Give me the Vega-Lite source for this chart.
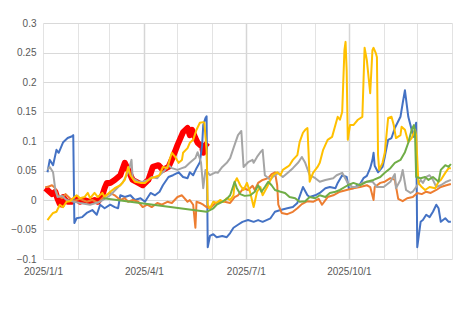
{
"$schema":"https://vega.github.io/schema/vega-lite/v6.json",
"width":409,"height":236,
"autosize":{"type":"none"},
"padding":{"left":43,"top":23,"right":12,"bottom":51},
"background":"white",
"config":{"view":{"stroke":null},"axis":{"labelFont":"Liberation Sans","labelFontSize":10,"labelColor":"#595959","domain":false,"ticks":false,"title":null}},
"data":{"values":[
{"s":"red","d":"2025/1/3","v":0.020},{"s":"red","d":"2025/1/5","v":0.017},{"s":"red","d":"2025/1/9","v":0.010},{"s":"red","d":"2025/1/12","v":0.014},{"s":"red","d":"2025/1/14","v":0.002},{"s":"red","d":"2025/1/16","v":-0.007},{"s":"red","d":"2025/1/18","v":-0.008},{"s":"red","d":"2025/1/19","v":0.005},{"s":"red","d":"2025/1/21","v":0.000},{"s":"red","d":"2025/1/23","v":-0.003},{"s":"red","d":"2025/1/27","v":-0.003},{"s":"red","d":"2025/1/31","v":0.003},{"s":"red","d":"2025/2/3","v":-0.003},{"s":"red","d":"2025/2/7","v":0.000},{"s":"red","d":"2025/2/12","v":-0.003},{"s":"red","d":"2025/2/16","v":0.000},{"s":"red","d":"2025/2/19","v":-0.003},{"s":"red","d":"2025/2/23","v":0.008},{"s":"red","d":"2025/2/25","v":0.020},{"s":"red","d":"2025/2/27","v":0.029},{"s":"red","d":"2025/3/2","v":0.029},{"s":"red","d":"2025/3/6","v":0.034},{"s":"red","d":"2025/3/11","v":0.042},{"s":"red","d":"2025/3/15","v":0.063},{"s":"red","d":"2025/3/18","v":0.051},{"s":"red","d":"2025/3/22","v":0.034},{"s":"red","d":"2025/3/27","v":0.029},{"s":"red","d":"2025/3/31","v":0.025},{"s":"red","d":"2025/4/5","v":0.034},{"s":"red","d":"2025/4/9","v":0.056},{"s":"red","d":"2025/4/14","v":0.059},{"s":"red","d":"2025/4/18","v":0.051},{"s":"red","d":"2025/4/23","v":0.056},{"s":"red","d":"2025/4/27","v":0.073},{"s":"red","d":"2025/5/1","v":0.093},{"s":"red","d":"2025/5/3","v":0.102},{"s":"red","d":"2025/5/6","v":0.115},{"s":"red","d":"2025/5/10","v":0.122},{"s":"red","d":"2025/5/12","v":0.110},{"s":"red","d":"2025/5/14","v":0.119},{"s":"red","d":"2025/5/17","v":0.105},{"s":"red","d":"2025/5/19","v":0.097},{"s":"red","d":"2025/5/23","v":0.090},{"s":"red","d":"2025/5/24","v":0.080},{"s":"red","d":"2025/5/26","v":0.093},{"s":"red","d":"2025/5/28","v":0.097},

{"s":"blue","d":"2025/1/5","v":0.047},{"s":"blue","d":"2025/1/7","v":0.068},{"s":"blue","d":"2025/1/10","v":0.059},{"s":"blue","d":"2025/1/13","v":0.085},{"s":"blue","d":"2025/1/15","v":0.080},{"s":"blue","d":"2025/1/19","v":0.098},{"s":"blue","d":"2025/1/23","v":0.105},{"s":"blue","d":"2025/1/27","v":0.108},{"s":"blue","d":"2025/1/28","v":0.110},{"s":"blue","d":"2025/1/29","v":-0.039},{"s":"blue","d":"2025/1/31","v":-0.031},{"s":"blue","d":"2025/2/5","v":-0.029},{"s":"blue","d":"2025/2/9","v":-0.022},{"s":"blue","d":"2025/2/14","v":-0.017},{"s":"blue","d":"2025/2/18","v":-0.025},{"s":"blue","d":"2025/2/21","v":-0.008},{"s":"blue","d":"2025/2/25","v":-0.014},{"s":"blue","d":"2025/3/2","v":-0.008},{"s":"blue","d":"2025/3/6","v":-0.012},{"s":"blue","d":"2025/3/9","v":-0.014},{"s":"blue","d":"2025/3/11","v":0.008},{"s":"blue","d":"2025/3/15","v":0.005},{"s":"blue","d":"2025/3/20","v":0.008},{"s":"blue","d":"2025/3/24","v":0.000},{"s":"blue","d":"2025/3/29","v":0.003},{"s":"blue","d":"2025/4/2","v":-0.003},{"s":"blue","d":"2025/4/7","v":0.012},{"s":"blue","d":"2025/4/11","v":0.008},{"s":"blue","d":"2025/4/15","v":0.014},{"s":"blue","d":"2025/4/18","v":0.025},{"s":"blue","d":"2025/4/23","v":0.039},{"s":"blue","d":"2025/4/27","v":0.042},{"s":"blue","d":"2025/5/2","v":0.047},{"s":"blue","d":"2025/5/6","v":0.039},{"s":"blue","d":"2025/5/10","v":0.037},{"s":"blue","d":"2025/5/12","v":0.047},{"s":"blue","d":"2025/5/15","v":0.042},{"s":"blue","d":"2025/5/18","v":0.054},{"s":"blue","d":"2025/5/21","v":0.064},{"s":"blue","d":"2025/5/23","v":0.093},{"s":"blue","d":"2025/5/24","v":0.127},{"s":"blue","d":"2025/5/26","v":0.139},{"s":"blue","d":"2025/5/27","v":0.142},{"s":"blue","d":"2025/5/28","v":-0.080},{"s":"blue","d":"2025/5/30","v":-0.061},{"s":"blue","d":"2025/6/2","v":-0.058},{"s":"blue","d":"2025/6/5","v":-0.063},{"s":"blue","d":"2025/6/10","v":-0.061},{"s":"blue","d":"2025/6/14","v":-0.063},{"s":"blue","d":"2025/6/17","v":-0.056},{"s":"blue","d":"2025/6/20","v":-0.047},{"s":"blue","d":"2025/6/24","v":-0.042},{"s":"blue","d":"2025/6/28","v":-0.037},{"s":"blue","d":"2025/7/3","v":-0.034},{"s":"blue","d":"2025/7/8","v":-0.037},{"s":"blue","d":"2025/7/12","v":-0.034},{"s":"blue","d":"2025/7/16","v":-0.037},{"s":"blue","d":"2025/7/23","v":-0.031},{"s":"blue","d":"2025/7/27","v":-0.020},{"s":"blue","d":"2025/8/1","v":-0.017},{"s":"blue","d":"2025/8/7","v":-0.014},{"s":"blue","d":"2025/8/12","v":-0.012},{"s":"blue","d":"2025/8/16","v":-0.005},{"s":"blue","d":"2025/8/21","v":0.022},{"s":"blue","d":"2025/8/25","v":0.008},{"s":"blue","d":"2025/8/27","v":0.005},{"s":"blue","d":"2025/9/1","v":0.008},{"s":"blue","d":"2025/9/5","v":0.012},{"s":"blue","d":"2025/9/10","v":0.020},{"s":"blue","d":"2025/9/14","v":0.022},{"s":"blue","d":"2025/9/19","v":0.020},{"s":"blue","d":"2025/9/21","v":0.029},{"s":"blue","d":"2025/9/25","v":0.042},{"s":"blue","d":"2025/9/29","v":0.039},{"s":"blue","d":"2025/10/1","v":0.019},{"s":"blue","d":"2025/10/5","v":0.020},{"s":"blue","d":"2025/10/11","v":0.027},{"s":"blue","d":"2025/10/14","v":0.037},{"s":"blue","d":"2025/10/17","v":0.041},{"s":"blue","d":"2025/10/20","v":0.054},{"s":"blue","d":"2025/10/22","v":0.068},{"s":"blue","d":"2025/10/23","v":0.080},{"s":"blue","d":"2025/10/24","v":0.058},{"s":"blue","d":"2025/10/27","v":0.047},{"s":"blue","d":"2025/10/31","v":0.056},{"s":"blue","d":"2025/11/2","v":0.073},{"s":"blue","d":"2025/11/5","v":0.102},{"s":"blue","d":"2025/11/8","v":0.105},{"s":"blue","d":"2025/11/11","v":0.122},{"s":"blue","d":"2025/11/16","v":0.141},{"s":"blue","d":"2025/11/18","v":0.164},{"s":"blue","d":"2025/11/20","v":0.186},{"s":"blue","d":"2025/11/23","v":0.141},{"s":"blue","d":"2025/11/26","v":0.119},{"s":"blue","d":"2025/11/28","v":0.107},{"s":"blue","d":"2025/11/29","v":0.124},{"s":"blue","d":"2025/11/30","v":0.131},{"s":"blue","d":"2025/12/1","v":-0.080},{"s":"blue","d":"2025/12/4","v":-0.037},{"s":"blue","d":"2025/12/6","v":-0.034},{"s":"blue","d":"2025/12/9","v":-0.025},{"s":"blue","d":"2025/12/12","v":-0.029},{"s":"blue","d":"2025/12/15","v":-0.020},{"s":"blue","d":"2025/12/18","v":-0.008},{"s":"blue","d":"2025/12/20","v":-0.014},{"s":"blue","d":"2025/12/22","v":-0.037},{"s":"blue","d":"2025/12/26","v":-0.031},{"s":"blue","d":"2025/12/29","v":-0.037},{"s":"blue","d":"2025/12/31","v":-0.037},

{"s":"orange","d":"2025/1/3","v":0.022},{"s":"orange","d":"2025/1/5","v":0.022},{"s":"orange","d":"2025/1/9","v":0.025},{"s":"orange","d":"2025/1/12","v":0.020},{"s":"orange","d":"2025/1/14","v":0.008},{"s":"orange","d":"2025/1/18","v":0.003},{"s":"orange","d":"2025/1/21","v":0.010},{"s":"orange","d":"2025/1/25","v":0.003},{"s":"orange","d":"2025/1/28","v":-0.002},{"s":"orange","d":"2025/2/3","v":0.002},{"s":"orange","d":"2025/2/9","v":-0.003},{"s":"orange","d":"2025/2/14","v":0.000},{"s":"orange","d":"2025/2/19","v":-0.005},{"s":"orange","d":"2025/2/25","v":0.007},{"s":"orange","d":"2025/3/2","v":0.012},{"s":"orange","d":"2025/3/6","v":0.008},{"s":"orange","d":"2025/3/11","v":0.000},{"s":"orange","d":"2025/3/15","v":0.003},{"s":"orange","d":"2025/3/18","v":-0.003},{"s":"orange","d":"2025/3/22","v":0.000},{"s":"orange","d":"2025/3/27","v":-0.003},{"s":"orange","d":"2025/3/31","v":-0.012},{"s":"orange","d":"2025/4/4","v":-0.008},{"s":"orange","d":"2025/4/8","v":-0.012},{"s":"orange","d":"2025/4/13","v":-0.005},{"s":"orange","d":"2025/4/17","v":-0.008},{"s":"orange","d":"2025/4/22","v":-0.003},{"s":"orange","d":"2025/4/26","v":-0.005},{"s":"orange","d":"2025/5/1","v":0.005},{"s":"orange","d":"2025/5/5","v":0.008},{"s":"orange","d":"2025/5/10","v":-0.003},{"s":"orange","d":"2025/5/12","v":0.000},{"s":"orange","d":"2025/5/15","v":-0.008},{"s":"orange","d":"2025/5/17","v":-0.047},{"s":"orange","d":"2025/5/18","v":-0.003},{"s":"orange","d":"2025/5/21","v":-0.005},{"s":"orange","d":"2025/5/24","v":-0.008},{"s":"orange","d":"2025/5/27","v":-0.012},{"s":"orange","d":"2025/5/30","v":-0.014},{"s":"orange","d":"2025/6/4","v":-0.005},{"s":"orange","d":"2025/6/8","v":-0.003},{"s":"orange","d":"2025/6/12","v":-0.003},{"s":"orange","d":"2025/6/17","v":-0.005},{"s":"orange","d":"2025/6/21","v":0.005},{"s":"orange","d":"2025/6/24","v":0.008},{"s":"orange","d":"2025/6/29","v":0.020},{"s":"orange","d":"2025/7/3","v":0.017},{"s":"orange","d":"2025/7/7","v":0.024},{"s":"orange","d":"2025/7/9","v":0.017},{"s":"orange","d":"2025/7/12","v":0.029},{"s":"orange","d":"2025/7/16","v":0.034},{"s":"orange","d":"2025/7/21","v":0.037},{"s":"orange","d":"2025/7/24","v":0.044},{"s":"orange","d":"2025/7/27","v":0.047},{"s":"orange","d":"2025/7/29","v":0.025},{"s":"orange","d":"2025/7/30","v":-0.008},{"s":"orange","d":"2025/8/2","v":-0.022},{"s":"orange","d":"2025/8/7","v":-0.024},{"s":"orange","d":"2025/8/12","v":-0.020},{"s":"orange","d":"2025/8/16","v":-0.014},{"s":"orange","d":"2025/8/20","v":-0.007},{"s":"orange","d":"2025/8/25","v":-0.002},{"s":"orange","d":"2025/8/30","v":-0.003},{"s":"orange","d":"2025/9/4","v":0.002},{"s":"orange","d":"2025/9/7","v":-0.008},{"s":"orange","d":"2025/9/12","v":0.005},{"s":"orange","d":"2025/9/17","v":0.008},{"s":"orange","d":"2025/9/23","v":0.014},{"s":"orange","d":"2025/9/29","v":0.017},{"s":"orange","d":"2025/10/5","v":0.020},{"s":"orange","d":"2025/10/11","v":0.022},{"s":"orange","d":"2025/10/17","v":0.025},{"s":"orange","d":"2025/10/20","v":0.022},{"s":"orange","d":"2025/10/23","v":0.000},{"s":"orange","d":"2025/10/24","v":0.022},{"s":"orange","d":"2025/10/29","v":0.029},{"s":"orange","d":"2025/11/2","v":0.031},{"s":"orange","d":"2025/11/7","v":0.037},{"s":"orange","d":"2025/11/11","v":0.034},{"s":"orange","d":"2025/11/14","v":0.002},{"s":"orange","d":"2025/11/18","v":-0.002},{"s":"orange","d":"2025/11/22","v":0.003},{"s":"orange","d":"2025/11/27","v":0.005},{"s":"orange","d":"2025/12/1","v":0.012},{"s":"orange","d":"2025/12/5","v":0.010},{"s":"orange","d":"2025/12/9","v":0.014},{"s":"orange","d":"2025/12/13","v":0.012},{"s":"orange","d":"2025/12/18","v":0.017},{"s":"orange","d":"2025/12/22","v":0.022},{"s":"orange","d":"2025/12/27","v":0.025},{"s":"orange","d":"2025/12/31","v":0.027},

{"s":"gray","d":"2025/1/5","v":0.051},{"s":"gray","d":"2025/1/7","v":0.056},{"s":"gray","d":"2025/1/10","v":0.047},{"s":"gray","d":"2025/1/12","v":0.017},{"s":"gray","d":"2025/1/14","v":0.005},{"s":"gray","d":"2025/1/18","v":0.007},{"s":"gray","d":"2025/1/22","v":0.000},{"s":"gray","d":"2025/2/3","v":-0.005},{"s":"gray","d":"2025/2/12","v":-0.008},{"s":"gray","d":"2025/2/21","v":-0.003},{"s":"gray","d":"2025/3/2","v":0.008},{"s":"gray","d":"2025/3/8","v":0.020},{"s":"gray","d":"2025/3/13","v":0.029},{"s":"gray","d":"2025/3/18","v":0.047},{"s":"gray","d":"2025/3/21","v":0.068},{"s":"gray","d":"2025/3/22","v":0.037},{"s":"gray","d":"2025/3/27","v":0.031},{"s":"gray","d":"2025/3/31","v":0.031},{"s":"gray","d":"2025/4/5","v":0.034},{"s":"gray","d":"2025/4/8","v":0.039},{"s":"gray","d":"2025/4/13","v":0.037},{"s":"gray","d":"2025/4/15","v":0.042},{"s":"gray","d":"2025/4/20","v":0.051},{"s":"gray","d":"2025/4/23","v":0.059},{"s":"gray","d":"2025/4/26","v":0.054},{"s":"gray","d":"2025/5/1","v":0.051},{"s":"gray","d":"2025/5/5","v":0.054},{"s":"gray","d":"2025/5/8","v":0.056},{"s":"gray","d":"2025/5/12","v":0.063},{"s":"gray","d":"2025/5/17","v":0.071},{"s":"gray","d":"2025/5/19","v":0.081},{"s":"gray","d":"2025/5/22","v":0.064},{"s":"gray","d":"2025/5/24","v":0.020},{"s":"gray","d":"2025/5/26","v":0.051},{"s":"gray","d":"2025/5/30","v":0.042},{"s":"gray","d":"2025/6/4","v":0.047},{"s":"gray","d":"2025/6/6","v":0.046},{"s":"gray","d":"2025/6/10","v":0.056},{"s":"gray","d":"2025/6/14","v":0.063},{"s":"gray","d":"2025/6/17","v":0.071},{"s":"gray","d":"2025/6/20","v":0.088},{"s":"gray","d":"2025/6/24","v":0.110},{"s":"gray","d":"2025/6/27","v":0.117},{"s":"gray","d":"2025/6/29","v":0.056},{"s":"gray","d":"2025/7/3","v":0.064},{"s":"gray","d":"2025/7/7","v":0.068},{"s":"gray","d":"2025/7/8","v":0.063},{"s":"gray","d":"2025/7/11","v":0.073},{"s":"gray","d":"2025/7/14","v":0.081},{"s":"gray","d":"2025/7/16","v":0.085},{"s":"gray","d":"2025/7/18","v":0.042},{"s":"gray","d":"2025/7/23","v":0.034},{"s":"gray","d":"2025/7/25","v":0.039},{"s":"gray","d":"2025/7/30","v":0.046},{"s":"gray","d":"2025/8/3","v":0.039},{"s":"gray","d":"2025/8/8","v":0.047},{"s":"gray","d":"2025/8/12","v":0.054},{"s":"gray","d":"2025/8/17","v":0.064},{"s":"gray","d":"2025/8/20","v":0.073},{"s":"gray","d":"2025/8/23","v":0.063},{"s":"gray","d":"2025/8/27","v":0.042},{"s":"gray","d":"2025/9/1","v":0.037},{"s":"gray","d":"2025/9/5","v":0.031},{"s":"gray","d":"2025/9/10","v":0.034},{"s":"gray","d":"2025/9/17","v":0.037},{"s":"gray","d":"2025/9/20","v":0.042},{"s":"gray","d":"2025/9/25","v":0.046},{"s":"gray","d":"2025/9/30","v":0.029},{"s":"gray","d":"2025/10/4","v":0.022},{"s":"gray","d":"2025/10/8","v":0.022},{"s":"gray","d":"2025/10/13","v":0.029},{"s":"gray","d":"2025/10/17","v":0.031},{"s":"gray","d":"2025/10/22","v":0.031},{"s":"gray","d":"2025/10/26","v":0.022},{"s":"gray","d":"2025/11/1","v":0.022},{"s":"gray","d":"2025/11/7","v":0.031},{"s":"gray","d":"2025/11/11","v":0.044},{"s":"gray","d":"2025/11/12","v":0.020},{"s":"gray","d":"2025/11/16","v":0.034},{"s":"gray","d":"2025/11/18","v":0.051},{"s":"gray","d":"2025/11/21","v":0.017},{"s":"gray","d":"2025/11/25","v":0.012},{"s":"gray","d":"2025/11/27","v":0.014},{"s":"gray","d":"2025/11/30","v":0.022},{"s":"gray","d":"2025/12/4","v":0.034},{"s":"gray","d":"2025/12/6","v":0.029},{"s":"gray","d":"2025/12/9","v":0.039},{"s":"gray","d":"2025/12/12","v":0.042},{"s":"gray","d":"2025/12/15","v":0.034},{"s":"gray","d":"2025/12/18","v":0.022},{"s":"gray","d":"2025/12/22","v":0.025},{"s":"gray","d":"2025/12/27","v":0.031},{"s":"gray","d":"2025/12/31","v":0.034},

{"s":"yellow","d":"2025/1/5","v":-0.034},{"s":"yellow","d":"2025/1/7","v":-0.029},{"s":"yellow","d":"2025/1/10","v":-0.022},{"s":"yellow","d":"2025/1/13","v":-0.020},{"s":"yellow","d":"2025/1/16","v":-0.008},{"s":"yellow","d":"2025/1/19","v":-0.012},{"s":"yellow","d":"2025/1/22","v":-0.003},{"s":"yellow","d":"2025/1/25","v":-0.002},{"s":"yellow","d":"2025/1/28","v":0.003},{"s":"yellow","d":"2025/1/31","v":0.008},{"s":"yellow","d":"2025/2/3","v":0.003},{"s":"yellow","d":"2025/2/7","v":0.005},{"s":"yellow","d":"2025/2/10","v":0.012},{"s":"yellow","d":"2025/2/12","v":0.003},{"s":"yellow","d":"2025/2/16","v":0.012},{"s":"yellow","d":"2025/2/19","v":0.005},{"s":"yellow","d":"2025/2/23","v":0.012},{"s":"yellow","d":"2025/2/25","v":0.005},{"s":"yellow","d":"2025/3/2","v":0.014},{"s":"yellow","d":"2025/3/6","v":0.020},{"s":"yellow","d":"2025/3/11","v":0.025},{"s":"yellow","d":"2025/3/15","v":0.034},{"s":"yellow","d":"2025/3/18","v":0.056},{"s":"yellow","d":"2025/3/20","v":0.042},{"s":"yellow","d":"2025/3/24","v":0.031},{"s":"yellow","d":"2025/3/29","v":0.029},{"s":"yellow","d":"2025/4/2","v":0.029},{"s":"yellow","d":"2025/4/7","v":0.037},{"s":"yellow","d":"2025/4/11","v":0.039},{"s":"yellow","d":"2025/4/15","v":0.042},{"s":"yellow","d":"2025/4/18","v":0.056},{"s":"yellow","d":"2025/4/22","v":0.054},{"s":"yellow","d":"2025/4/24","v":0.068},{"s":"yellow","d":"2025/4/26","v":0.080},{"s":"yellow","d":"2025/4/29","v":0.073},{"s":"yellow","d":"2025/5/2","v":0.063},{"s":"yellow","d":"2025/5/5","v":0.068},{"s":"yellow","d":"2025/5/6","v":0.080},{"s":"yellow","d":"2025/5/10","v":0.088},{"s":"yellow","d":"2025/5/12","v":0.097},{"s":"yellow","d":"2025/5/15","v":0.102},{"s":"yellow","d":"2025/5/18","v":0.119},{"s":"yellow","d":"2025/5/21","v":0.131},{"s":"yellow","d":"2025/5/24","v":0.132},{"s":"yellow","d":"2025/5/25","v":0.131},{"s":"yellow","d":"2025/5/26","v":0.107},{"s":"yellow","d":"2025/5/27","v":0.085},{"s":"yellow","d":"2025/5/28","v":-0.008},{"s":"yellow","d":"2025/5/30","v":-0.014},{"s":"yellow","d":"2025/6/2","v":-0.003},{"s":"yellow","d":"2025/6/5","v":-0.005},{"s":"yellow","d":"2025/6/8","v":0.000},{"s":"yellow","d":"2025/6/11","v":-0.003},{"s":"yellow","d":"2025/6/14","v":0.003},{"s":"yellow","d":"2025/6/17","v":0.000},{"s":"yellow","d":"2025/6/20","v":0.008},{"s":"yellow","d":"2025/6/21","v":0.029},{"s":"yellow","d":"2025/6/23","v":0.037},{"s":"yellow","d":"2025/6/26","v":0.025},{"s":"yellow","d":"2025/6/29","v":0.017},{"s":"yellow","d":"2025/7/2","v":0.029},{"s":"yellow","d":"2025/7/5","v":0.012},{"s":"yellow","d":"2025/7/8","v":-0.012},{"s":"yellow","d":"2025/7/11","v":0.014},{"s":"yellow","d":"2025/7/14","v":0.022},{"s":"yellow","d":"2025/7/16","v":0.008},{"s":"yellow","d":"2025/7/20","v":0.022},{"s":"yellow","d":"2025/7/23","v":0.034},{"s":"yellow","d":"2025/7/25","v":0.042},{"s":"yellow","d":"2025/7/29","v":0.047},{"s":"yellow","d":"2025/8/1","v":0.042},{"s":"yellow","d":"2025/8/3","v":0.051},{"s":"yellow","d":"2025/8/7","v":0.056},{"s":"yellow","d":"2025/8/9","v":0.059},{"s":"yellow","d":"2025/8/12","v":0.068},{"s":"yellow","d":"2025/8/16","v":0.076},{"s":"yellow","d":"2025/8/18","v":0.098},{"s":"yellow","d":"2025/8/21","v":0.114},{"s":"yellow","d":"2025/8/23","v":0.119},{"s":"yellow","d":"2025/8/25","v":0.122},{"s":"yellow","d":"2025/8/26","v":0.080},{"s":"yellow","d":"2025/8/27","v":0.031},{"s":"yellow","d":"2025/8/30","v":0.046},{"s":"yellow","d":"2025/9/3","v":0.056},{"s":"yellow","d":"2025/9/5","v":0.063},{"s":"yellow","d":"2025/9/8","v":0.085},{"s":"yellow","d":"2025/9/12","v":0.102},{"s":"yellow","d":"2025/9/16","v":0.107},{"s":"yellow","d":"2025/9/21","v":0.141},{"s":"yellow","d":"2025/9/23","v":0.136},{"s":"yellow","d":"2025/9/25","v":0.149},{"s":"yellow","d":"2025/9/27","v":0.254},{"s":"yellow","d":"2025/9/28","v":0.268},{"s":"yellow","d":"2025/9/29","v":0.220},{"s":"yellow","d":"2025/9/30","v":0.102},{"s":"yellow","d":"2025/10/2","v":0.127},{"s":"yellow","d":"2025/10/5","v":0.127},{"s":"yellow","d":"2025/10/9","v":0.136},{"s":"yellow","d":"2025/10/13","v":0.141},{"s":"yellow","d":"2025/10/15","v":0.258},{"s":"yellow","d":"2025/10/17","v":0.237},{"s":"yellow","d":"2025/10/20","v":0.181},{"s":"yellow","d":"2025/10/22","v":0.254},{"s":"yellow","d":"2025/10/23","v":0.258},{"s":"yellow","d":"2025/10/25","v":0.249},{"s":"yellow","d":"2025/10/26","v":0.242},{"s":"yellow","d":"2025/10/27","v":0.076},{"s":"yellow","d":"2025/10/28","v":0.051},{"s":"yellow","d":"2025/10/31","v":0.063},{"s":"yellow","d":"2025/11/2","v":0.080},{"s":"yellow","d":"2025/11/5","v":0.139},{"s":"yellow","d":"2025/11/8","v":0.141},{"s":"yellow","d":"2025/11/10","v":0.127},{"s":"yellow","d":"2025/11/12","v":0.105},{"s":"yellow","d":"2025/11/16","v":0.110},{"s":"yellow","d":"2025/11/17","v":0.124},{"s":"yellow","d":"2025/11/20","v":0.119},{"s":"yellow","d":"2025/11/23","v":0.098},{"s":"yellow","d":"2025/11/26","v":0.105},{"s":"yellow","d":"2025/11/29","v":0.119},{"s":"yellow","d":"2025/11/30","v":0.110},{"s":"yellow","d":"2025/12/2","v":0.029},{"s":"yellow","d":"2025/12/5","v":0.022},{"s":"yellow","d":"2025/12/8","v":0.017},{"s":"yellow","d":"2025/12/12","v":0.022},{"s":"yellow","d":"2025/12/17","v":0.020},{"s":"yellow","d":"2025/12/20","v":0.031},{"s":"yellow","d":"2025/12/22","v":0.034},{"s":"yellow","d":"2025/12/26","v":0.046},{"s":"yellow","d":"2025/12/29","v":0.054},{"s":"yellow","d":"2025/12/31","v":0.054},

{"s":"green","d":"2025/2/24","v":0.003},{"s":"green","d":"2025/5/27","v":-0.020},{"s":"green","d":"2025/5/30","v":-0.017},{"s":"green","d":"2025/6/2","v":-0.014},{"s":"green","d":"2025/6/5","v":-0.008},{"s":"green","d":"2025/6/10","v":-0.003},{"s":"green","d":"2025/6/14","v":0.002},{"s":"green","d":"2025/6/17","v":0.008},{"s":"green","d":"2025/6/20","v":0.025},{"s":"green","d":"2025/6/21","v":0.031},{"s":"green","d":"2025/6/23","v":0.020},{"s":"green","d":"2025/6/26","v":0.010},{"s":"green","d":"2025/6/30","v":0.007},{"s":"green","d":"2025/7/5","v":0.008},{"s":"green","d":"2025/7/9","v":0.014},{"s":"green","d":"2025/7/12","v":0.025},{"s":"green","d":"2025/7/15","v":0.014},{"s":"green","d":"2025/7/18","v":0.022},{"s":"green","d":"2025/7/21","v":0.031},{"s":"green","d":"2025/7/24","v":0.025},{"s":"green","d":"2025/7/27","v":0.017},{"s":"green","d":"2025/8/1","v":0.014},{"s":"green","d":"2025/8/5","v":0.012},{"s":"green","d":"2025/8/9","v":0.005},{"s":"green","d":"2025/8/14","v":0.003},{"s":"green","d":"2025/8/18","v":-0.003},{"s":"green","d":"2025/8/23","v":-0.002},{"s":"green","d":"2025/8/27","v":0.005},{"s":"green","d":"2025/9/1","v":0.003},{"s":"green","d":"2025/9/5","v":0.008},{"s":"green","d":"2025/9/10","v":0.005},{"s":"green","d":"2025/9/14","v":0.012},{"s":"green","d":"2025/9/19","v":0.014},{"s":"green","d":"2025/9/23","v":0.017},{"s":"green","d":"2025/9/30","v":0.025},{"s":"green","d":"2025/10/5","v":0.029},{"s":"green","d":"2025/10/11","v":0.025},{"s":"green","d":"2025/10/17","v":0.031},{"s":"green","d":"2025/10/23","v":0.034},{"s":"green","d":"2025/10/29","v":0.039},{"s":"green","d":"2025/11/2","v":0.046},{"s":"green","d":"2025/11/7","v":0.054},{"s":"green","d":"2025/11/11","v":0.063},{"s":"green","d":"2025/11/16","v":0.068},{"s":"green","d":"2025/11/20","v":0.081},{"s":"green","d":"2025/11/23","v":0.097},{"s":"green","d":"2025/11/26","v":0.119},{"s":"green","d":"2025/11/28","v":0.127},{"s":"green","d":"2025/11/29","v":0.114},{"s":"green","d":"2025/11/30","v":0.039},{"s":"green","d":"2025/12/4","v":0.037},{"s":"green","d":"2025/12/8","v":0.039},{"s":"green","d":"2025/12/11","v":0.034},{"s":"green","d":"2025/12/15","v":0.039},{"s":"green","d":"2025/12/20","v":0.031},{"s":"green","d":"2025/12/22","v":0.051},{"s":"green","d":"2025/12/26","v":0.059},{"s":"green","d":"2025/12/29","v":0.056},{"s":"green","d":"2025/12/31","v":0.061}
]},
"encoding":{
"x":{"field":"d","type":"temporal","scale":{"domain":[{"year":2025,"month":1,"date":1},{"year":2026,"month":1,"date":1}],"nice":false},
 "axis":{"tickCount":{"interval":"month","step":1},"grid":true,
  "gridColor":{"condition":{"test":"month(datum.value)==3||month(datum.value)==6||month(datum.value)==9","value":"#d6d6d6"},"value":"#e3e3e3"},
  "gridWidth":{"condition":{"test":"month(datum.value)==3||month(datum.value)==6||month(datum.value)==9","value":1.5},"value":1},
  "labelExpr":"(month(datum.value)%3==0 && year(datum.value)==2025) ? timeFormat(datum.value,'%Y/%-m/%-d') : ''",
  "labelFlush":false,"labelOverlap":false,"labelPadding":7}},
"y":{"field":"v","type":"quantitative","scale":{"domain":[-0.1,0.3]},
 "axis":{"values":[-0.1,-0.05,0,0.05,0.1,0.15,0.2,0.25,0.3],"format":"~g","gridColor":"#d9d9d9","labelPadding":7}}
},
"layer":[
{"transform":[{"filter":"datum.s=='red'"}],"mark":{"type":"line","color":"#FF0000","strokeWidth":6,"strokeJoin":"round"}},
{"transform":[{"filter":"datum.s!='red'"}],"mark":{"type":"line","strokeWidth":2,"strokeJoin":"round"},
 "encoding":{"color":{"field":"s","type":"nominal","scale":{"domain":["blue","orange","gray","yellow","green"],"range":["#4472C4","#ED7D31","#A5A5A5","#FFC000","#70AD47"]},"legend":null}}}
]
}
